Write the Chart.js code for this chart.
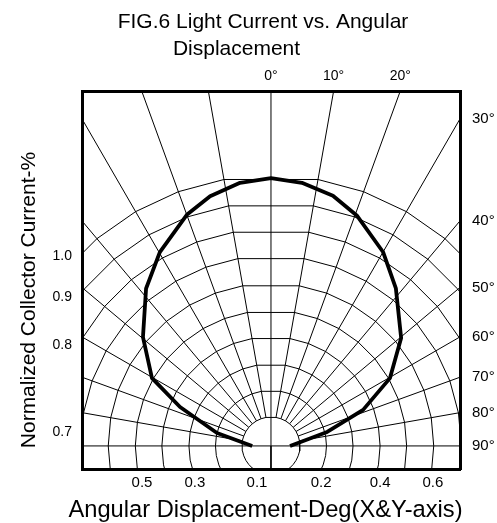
<!DOCTYPE html>
<html>
<head>
<meta charset="utf-8">
<script src="https://cdn.jsdelivr.net/npm/chart.js@4.4.1/dist/chart.umd.min.js"></script>
<style>
html,body{margin:0;padding:0;background:#fff;overflow:hidden}
canvas{display:block}
</style>
</head>
<body>
<canvas id="c" width="497" height="523" style="width:497px;height:523px"></canvas>
<script>
// ---- texts ----
const titleLines = ['FIG.6 Light Current vs. Angular', 'Displacement'];
const xTitle = 'Angular Displacement-Deg(X&Y-axis)';
const yTitle = 'Normalized Collector Current-%';

// ---- measured curve (angle in degrees, relative radius) ----
const curveAngles = [-90, -76.5, -66.8, -60.3, -49.6, -38.4, -29.8, -20, -13.7, -6.7, 0, 6.7, 13.9, 20.4, 30, 38.4, 50.3, 60.3, 68.6, 76, 90];
const curveValues = [0.07, 0.207, 0.369, 0.511, 0.627, 0.75, 0.834, 0.918, 0.959, 0.989, 1.0, 0.989, 0.962, 0.918, 0.836, 0.75, 0.631, 0.511, 0.369, 0.216, 0.071];

// ---- polar grid ----
const ringRadii = [0.108, 0.207, 0.306, 0.407, 0.506, 0.607, 0.71, 0.81, 0.91, 1.01];
const spokeAngles = [-90, -80, -70, -60, -50, -40, -30, -20, -10, 0, 10, 20, 30, 40, 50, 60, 70, 80, 90, 180];

// ---- tick labels ----
const leftTickLabels = ['1.0', '0.9', '0.8', '0.7'];
const leftTickValues = [0.709, 0.556, 0.377, 0.052];
const bottomTickLabels = ['0.5', '0.3', '0.1', '0.2', '0.4', '0.6'];
const bottomTickValues = [-0.481, -0.284, -0.052, 0.187, 0.407, 0.604];
const rightTickAngles = [30, 40, 50, 60, 70, 80, 90];
const topTickAngles = [0, 10, 20];

// ---- axis ranges ----
const X_MIN = -0.703, X_MAX = 0.705, Y_MIN = -0.088, Y_MAX = 1.325;

const FONT = '"Liberation Sans", Arial, Helvetica, sans-serif';
const rad = d => d * Math.PI / 180;
const polar = (deg, r) => ({ x: r * Math.sin(rad(deg)), y: r * Math.cos(rad(deg)) });

const ringAngles = [];
for (let a = -170; a <= 170; a += 10) if (a !== 0) ringAngles.push(a);

const base = { showLine: true, pointRadius: 0, pointHoverRadius: 0, borderColor: '#000', fill: false, clip: 0, tension: 0 };
const datasets = [];
ringRadii.forEach(r => {
  datasets.push(Object.assign({}, base, { borderWidth: 1, data: ringAngles.map(a => polar(a, r)) }));
});
spokeAngles.forEach(a => {
  const r0 = (a % 90 === 0) ? 0 : ringRadii[0];
  datasets.push(Object.assign({}, base, { borderWidth: 1, data: [polar(a, r0), polar(a, 3)] }));
});
datasets.push(Object.assign({}, base, {
  borderWidth: 3.8, borderJoinStyle: 'round', borderCapStyle: 'butt',
  data: curveAngles.map((a, i) => polar(a, curveValues[i]))
}));

const rightTickValues = rightTickAngles.map(a => X_MAX * Math.cos(rad(a)) / Math.sin(rad(a)));
const topTickValues = topTickAngles.map(a => Y_MAX * Math.tan(rad(a)));

function axis(position, min, max, values, labels, size, pad, fitFn) {
  return {
    type: 'linear', position, min, max, z: 1,
    grid: { display: false, drawTicks: false },
    border: { display: true, width: 3, color: '#000' },
    afterBuildTicks: s => { s.ticks = values.map(v => ({ value: v })); },
    afterFit: fitFn,
    ticks: {
      autoSkip: false, maxRotation: 0, minRotation: 0, padding: pad, color: '#000',
      font: { family: FONT, size },
      callback: (v, i) => labels[i]
    }
  };
}

const textPlugin = {
  id: 'texts',
  afterDraw(chart) {
    const ctx = chart.ctx;
    ctx.save();
    ctx.fillStyle = '#000';
    ctx.textAlign = 'center';
    ctx.textBaseline = 'alphabetic';
    ctx.font = '21px ' + FONT;
    ctx.fillText(titleLines[0], 263, 28);
    ctx.fillText(titleLines[1], 236.5, 55);
    ctx.font = '23.7px ' + FONT;
    ctx.fillText(xTitle, 265.5, 517);
    ctx.translate(35, 300);
    ctx.rotate(-Math.PI / 2);
    ctx.font = '21px ' + FONT;
    ctx.fillText(yTitle, 0, 0);
    ctx.restore();
  }
};

new Chart(document.getElementById('c'), {
  type: 'scatter',
  data: { datasets },
  options: {
    responsive: false,
    animation: false,
    devicePixelRatio: 1,
    layout: { padding: 0 },
    plugins: { legend: { display: false }, tooltip: { enabled: false }, title: { display: false } },
    events: [],
    scales: {
      x: axis('bottom', X_MIN, X_MAX, bottomTickValues, bottomTickLabels, 15, 4, s => { s.height = 53.5; }),
      xTop: axis('top', X_MIN, X_MAX, topTickValues, topTickAngles.map(a => a + '°'), 14, 6, s => { s.height = 91; }),
      y: axis('left', Y_MIN, Y_MAX, leftTickValues, leftTickLabels, 14, 10.5, s => { s.width = 82.5; }),
      yRight: axis('right', Y_MIN, Y_MAX, rightTickValues, rightTickAngles.map(a => a + '°'), 15, 12, s => { s.width = 37; })
    }
  },
  plugins: [textPlugin]
});
</script>
</body>
</html>
